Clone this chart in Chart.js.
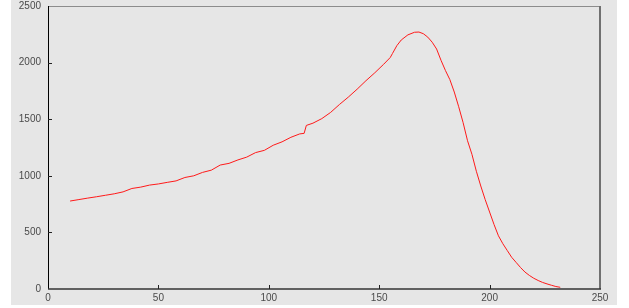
<!DOCTYPE html>
<html>
<head>
<meta charset="utf-8">
<script src="https://cdn.jsdelivr.net/npm/chart.js@4/dist/chart.umd.min.js"></script>
<style>
html,body{margin:0;padding:0;background:#ffffff;}
#wrap{width:629px;height:308px;position:relative;}
</style>
</head>
<body>
<div id="wrap"><canvas id="c" width="629" height="308"></canvas></div>
<script>
const xValues = [10,14,18,22,26,30,34,38,42,46,50,54,58,62,66,70,74,78,82,86,90,94,98,102,106,110,114,116,117,120,124,128,132,136,140,144,148,152,155,156,158,160,163,166,168,170,172,174,176,178,180,182,184,186,188,190,192,194,196,198,200,202,204,206,208,210,212,214,216,218,220,222,224,226,228,230,232];
const yValues = [777,790,803,815,828,841,858,888,900,918,928,942,955,985,1000,1030,1050,1095,1110,1140,1165,1205,1225,1270,1300,1340,1370,1375,1445,1465,1505,1560,1630,1695,1765,1840,1910,1985,2045,2080,2150,2200,2245,2268,2270,2255,2225,2180,2120,2020,1930,1850,1740,1610,1470,1310,1190,1040,910,790,680,570,470,400,340,280,235,190,150,120,95,75,58,45,33,22,15];
const xTicks = [0,50,100,150,200,250];
const yTicks = [0,500,1000,1500,2000,2500];

const points = xValues.map((x,i)=>({x:x,y:yValues[i]}));

const framePlugin = {
  id:'frame',
  beforeDraw(chart){
    const ctx = chart.ctx;
    ctx.save();
    ctx.fillStyle = '#ffffff';
    ctx.fillRect(0,0,chart.width,chart.height);
    ctx.fillStyle = '#e6e6e6';
    ctx.fillRect(11,0,606,305);
    ctx.restore();
  },
  afterDatasetsDraw(chart){
    const ctx = chart.ctx;
    const a = chart.chartArea;
    const xs = chart.scales.x, ys = chart.scales.y;
    ctx.save();
    ctx.strokeStyle = '#8c8c8c';
    ctx.lineWidth = 1;
    ctx.beginPath(); ctx.moveTo(a.left, a.top+0.5); ctx.lineTo(a.right, a.top+0.5); ctx.stroke();
    ctx.strokeStyle = '#707070';
    ctx.lineWidth = 2;
    ctx.beginPath(); ctx.moveTo(a.right, a.top); ctx.lineTo(a.right, a.bottom); ctx.stroke();
    ctx.strokeStyle = '#000000';
    ctx.lineWidth = 1;
    ctx.beginPath(); ctx.moveTo(a.left+0.5, a.top); ctx.lineTo(a.left+0.5, a.bottom); ctx.stroke();
    ctx.strokeStyle = '#333333';
    ctx.lineWidth = 1.5;
    ctx.beginPath(); ctx.moveTo(a.left, a.bottom); ctx.lineTo(a.right+1, a.bottom); ctx.stroke();
    ctx.strokeStyle = '#222222';
    ctx.lineWidth = 1;
    yTicks.forEach(v=>{
      if (v===0||v===2500) return;
      const py = Math.round(ys.getPixelForValue(v))+0.5;
      ctx.beginPath(); ctx.moveTo(a.left, py); ctx.lineTo(a.left+4, py); ctx.stroke();
    });
    xTicks.forEach(v=>{
      if (v===0||v===250) return;
      const px = Math.round(xs.getPixelForValue(v))+0.5;
      ctx.beginPath(); ctx.moveTo(px, a.bottom); ctx.lineTo(px, a.bottom-4); ctx.stroke();
    });
    ctx.restore();
  }
};

new Chart(document.getElementById('c'), {
  type:'scatter',
  data:{datasets:[{
    data:points,
    showLine:true,
    borderColor:'#ff1a1a',
    borderWidth:1,
    pointRadius:0,
    tension:0,
    fill:false
  }]},
  options:{
    responsive:false,
    animation:false,
    devicePixelRatio:1,
    layout:{padding:{top:6,right:29,left:0,bottom:0}},
    plugins:{legend:{display:false},tooltip:{enabled:false}},
    scales:{
      x:{
        type:'linear',min:0,max:250,
        afterFit(s){s.height=19;},
        afterBuildTicks(s){s.ticks = xTicks.map(v=>({value:v}));},
        grid:{display:false,drawTicks:false},
        border:{display:false},
        ticks:{padding:3,color:'#4a4a4a',font:{family:'Liberation Sans',size:10},maxRotation:0,autoSkip:false,callback:v=>String(v)}
      },
      y:{
        type:'linear',min:0,max:2500,
        afterFit(s){s.width=48; s.paddingTop=0;},
        afterBuildTicks(s){s.ticks = yTicks.map(v=>({value:v}));},
        grid:{display:false,drawTicks:false},
        border:{display:false},
        ticks:{padding:7,color:'#4a4a4a',font:{family:'Liberation Sans',size:10},autoSkip:false,callback:v=>String(v)}
      }
    }
  },
  plugins:[framePlugin]
});
</script>
</body>
</html>
